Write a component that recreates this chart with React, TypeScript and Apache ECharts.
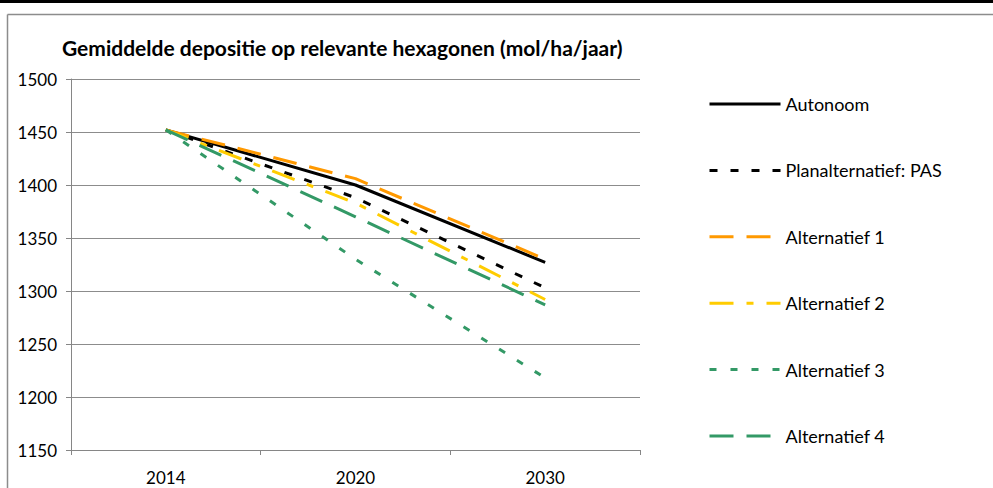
import React, { useEffect, useRef } from "react";
import * as echarts from "echarts";

const years = ["2014", "2020", "2030"];
const autonoom = [1452, 1400, 1327];
const planPAS = [1452, 1388, 1303];
const alt1 = [1452, 1406, 1330];
const alt2 = [1452, 1383, 1292];
const alt3 = [1452, 1330, 1218];
const alt4 = [1452, 1370, 1287];
const seriesNames = ["Autonoom", "Planalternatief: PAS", "Alternatief 1", "Alternatief 2", "Alternatief 3", "Alternatief 4"];

const FONT = "Lato, 'Open Sans', sans-serif";

export default function App() {
  const ref = useRef<HTMLDivElement>(null);
  useEffect(() => {
    if (!ref.current) return;
    const chart = echarts.init(ref.current, undefined, { renderer: "svg" });
    const mk = (name: string, data: number[], color: string, type: any) => ({
      name,
      type: "line",
      data,
      symbol: "none",
      lineStyle: { color, width: 3, type, cap: "butt" },
      itemStyle: { color },
    });
    chart.setOption({
      animation: false,
      backgroundColor: "#ffffff",
      title: {
        text: "Gemiddelde depositie op relevante hexagonen (mol/ha/jaar)",
        left: 62,
        top: 35,
        padding: 0,
        textStyle: { fontFamily: FONT, fontWeight: "bold", fontSize: 21, lineHeight: 24, color: "#000" },
      },
      grid: { left: 71, right: 353, top: 79, bottom: 38 },
      xAxis: {
        type: "category",
        data: years,
        boundaryGap: true,
        axisLine: { lineStyle: { color: "#868686", width: 1 } },
        axisTick: { show: true, length: 5, lineStyle: { color: "#868686" } },
        axisLabel: { fontFamily: FONT, fontSize: 17, color: "#000", margin: 19 },
      },
      yAxis: {
        type: "value",
        min: 1150,
        max: 1500,
        interval: 50,
        axisLine: { show: true, lineStyle: { color: "#868686", width: 1 } },
        axisTick: { show: true, length: 5, lineStyle: { color: "#868686" } },
        splitLine: { lineStyle: { color: "#8c8c8c", width: 1 } },
        axisLabel: { fontFamily: FONT, fontSize: 17, color: "#000", margin: 14, formatter: (v: number) => String(v) },
      },
      legend: {
        orient: "vertical",
        left: 708,
        top: 95,
        padding: 0,
        itemWidth: 71,
        itemHeight: 14,
        itemGap: 48.4,
        itemStyle: { opacity: 0 },
        lineStyle: { width: 3 },
        data: seriesNames,
        textStyle: { fontFamily: FONT, fontSize: 18, lineHeight: 14, color: "#000", padding: [0, 0, 0, 0] },
      },
      graphic: [
        { type: "rect", shape: { x: 0, y: 0, width: 993, height: 3 }, style: { fill: "#000" }, silent: true },
        { type: "line", shape: { x1: 7.5, y1: 14.5, x2: 993, y2: 14.5 }, style: { stroke: "#8c8c8c", lineWidth: 1.5 }, silent: true },
        { type: "line", shape: { x1: 7.5, y1: 14.5, x2: 7.5, y2: 488 }, style: { stroke: "#8c8c8c", lineWidth: 1.5 }, silent: true },
      ],
      series: [
        mk(seriesNames[0], autonoom, "#000000", "solid"),
        mk(seriesNames[1], planPAS, "#000000", [8, 13]),
        mk(seriesNames[2], alt1, "#FF9900", [24, 13]),
        mk(seriesNames[3], alt2, "#FFCC00", [24, 13, 7, 13]),
        mk(seriesNames[4], alt3, "#339966", [7, 14]),
        mk(seriesNames[5], alt4, "#339966", [24, 13]),
      ],
    });
    return () => chart.dispose();
  }, []);
  return <div ref={ref} style={{ position: "absolute", left: 0, top: 0, width: 993, height: 488 }} />;
}
